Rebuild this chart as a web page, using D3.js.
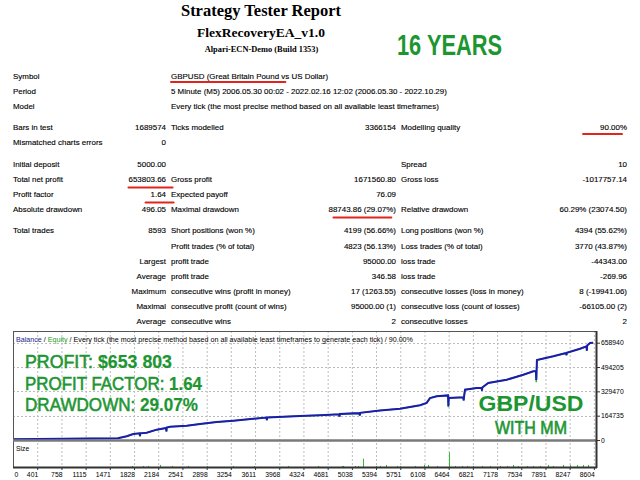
<!DOCTYPE html>
<html>
<head>
<meta charset="utf-8">
<script src="https://cdn.jsdelivr.net/npm/d3@7"></script>
<style>
  body { margin: 0; background: #fff; }
  svg { display: block; }
</style>
</head>
<body>
<div id="root"></div>
<script>
// ---- Report header
const reportTitle = 'Strategy Tester Report';
const expertName = 'FlexRecoveryEA_v1.0';
const serverName = 'Alpari-ECN-Demo (Build 1353)';
const yearsBadge = '16 YEARS';

// ---- Summary table (6 columns: label, value, label, value, label, value)
const infoRows = [
    ['Symbol', '', 'GBPUSD (Great Britain Pound vs US Dollar)', '', '', ''],
    ['Period', '', '5 Minute (M5) 2006.05.30 00:02 - 2022.02.16 12:02 (2006.05.30 - 2022.10.29)', '', '', ''],
    ['Model', '', 'Every tick (the most precise method based on all available least timeframes)', '', '', '']
];
const qualityRows = [
    ['Bars in test', '1689574', 'Ticks modelled', '3366154', 'Modelling quality', '90.00%'],
    ['Mismatched charts errors', '0', '', '', '', '']
];
const resultRows = [
    ['Initial deposit', '5000.00', '', '', 'Spread', '10'],
    ['Total net profit', '653803.66', 'Gross profit', '1671560.80', 'Gross loss', '-1017757.14'],
    ['Profit factor', '1.64', 'Expected payoff', '76.09', '', ''],
    ['Absolute drawdown', '496.05', 'Maximal drawdown', '88743.86 (29.07%)', 'Relative drawdown', '60.29% (23074.50)']
];
const tradeRows = [
    ['Total trades', '8593', 'Short positions (won %)', '4199 (56.66%)', 'Long positions (won %)', '4394 (55.62%)'],
    ['', '', 'Profit trades (% of total)', '4823 (56.13%)', 'Loss trades (% of total)', '3770 (43.87%)'],
    ['', 'Largest', 'profit trade', '95000.00', 'loss trade', '-44343.00'],
    ['', 'Average', 'profit trade', '346.58', 'loss trade', '-269.96'],
    ['', 'Maximum', 'consecutive wins (profit in money)', '17 (1263.55)', 'consecutive losses (loss in money)', '8 (-19941.06)'],
    ['', 'Maximal', 'consecutive profit (count of wins)', '95000.00 (1)', 'consecutive loss (count of losses)', '-66105.00 (2)'],
    ['', 'Average', 'consecutive wins', '2', 'consecutive losses', '2']
];
const markedCells = ['GBPUSD (Great Britain Pound vs US Dollar)', '90.00%', '653803.66', '1.64', '88743.86 (29.07%)'];

// ---- Balance / equity chart
const chartCaption = ['Balance', ' / ', 'Equity', ' / Every tick (the most precise method based on all available least timeframes to generate each tick) / 90.00%'];
const balanceTrades = [0, 400, 800, 1200, 1590, 1720, 1817, 1910, 1915, 1920, 2014, 2162, 2300, 2305, 2310, 2358, 2604, 2800, 3046, 3291,
    3585, 3780, 3785, 3790, 4028, 4273, 4568, 4850, 4855, 4860, 5150, 5155, 5160, 5452, 5747, 6042, 6140, 6189, 6288, 6455,
    6460, 6465, 6680, 6685, 6690, 6705, 6877, 6950, 6955, 6960, 7048, 7319, 7564, 7712, 7750, 7755, 7765, 8006, 8195, 8200,
    8205, 8400, 8495, 8500, 8505, 8547, 8593];
const balanceValues = [5000, 7000, 8000, 10000, 12000, 25000, 40000, 45000, 26000, 45000, 49000, 70000, 81000, 59000, 84000, 90000, 97000, 108000, 122000, 131000,
    144000, 152000, 135000, 153000, 158000, 162000, 167000, 174000, 158000, 176000, 182000, 166000, 184000, 199000, 212000, 235000, 251000, 284000, 296000, 302000,
    228000, 284000, 289000, 268000, 290000, 341000, 352000, 352000, 335000, 356000, 386000, 408000, 442000, 466000, 466000, 406000, 542000, 567000, 589000, 575000,
    590000, 618000, 634000, 605000, 640000, 657000, 658803];
const equityValues = [5000, 7000, 8000, 10000, 12000, 25000, 40000, 45000, 24000, 45000, 49000, 70000, 81000, 57000, 84000, 90000, 97000, 108000, 122000, 131000,
    144000, 152000, 133000, 153000, 158000, 162000, 167000, 174000, 156000, 176000, 182000, 164000, 184000, 199000, 212000, 235000, 251000, 284000, 296000, 302000,
    222000, 284000, 289000, 266000, 290000, 341000, 352000, 352000, 333000, 356000, 386000, 408000, 442000, 466000, 466000, 392000, 542000, 567000, 589000, 573000,
    590000, 618000, 634000, 603000, 640000, 657000, 658803];
const sizeTrades = [1793, 1965, 2040, 2210, 2383, 2628, 2900, 3290, 3600, 4100, 4543, 4888, 4903, 5084, 5133, 5207, 5394, 5452, 5541, 5698,
    5747, 5968, 6101, 6164, 6288, 6469, 6558, 6656, 6730, 6827, 6951, 7073, 7221, 7319, 7417, 7491, 7614, 7712, 7810, 7933,
    8006, 8154, 8252, 8351, 8449, 8522];
const sizeLots = [0.5, 0.5, 0.5, 1, 0.5, 0.5, 0.5, 0.5, 0.5, 0.5, 0.5, 0.5, 0.5, 0.5, 0.5, 4, 0.5, 0.5, 1, 0.5,
    0.5, 0.5, 1, 1, 0.5, 7, 0.5, 0.5, 0.5, 0.5, 0.5, 0.5, 0.5, 0.5, 1, 0.5, 0.5, 0.5, 0.5, 1,
    0.5, 1, 1, 1, 1, 1];
const xTickValues = [0, 401, 758, 1115, 1471, 1828, 2184, 2541, 2898, 3254, 3611, 3968, 4324, 4681, 5038, 5394, 5751, 6108, 6464, 6821, 7178, 7534, 7891, 8247, 8604];
const yTickValues = [0, 164735, 329470, 494205, 658940];

// ---- Promo overlay
const overlayLines = [['PROFIT: ', '$653 803'], ['PROFIT FACTOR: ', '1.64'], ['DRAWDOWN: ', '29.07%']];
const pairLabel = 'GBP/USD';
const mmLabel = 'WITH MM';

const width = 640, height = 480;
const green = '#1d9632';
const sans = '"Liberation Sans", Arial, sans-serif';
const serif = '"Liberation Serif", "Times New Roman", serif';

const svg = d3.select('#root').append('svg').attr('width', width).attr('height', height);
svg.append('rect').attr('width', width).attr('height', height).attr('fill', '#fff');

// Header
const header = svg.append('g').attr('font-family', serif).attr('font-weight', 'bold').attr('text-anchor', 'middle').attr('fill', '#000');
header.append('text').attr('x', 261).attr('y', 16).attr('font-size', 16.5).text(reportTitle);
header.append('text').attr('x', 261).attr('y', 37).attr('font-size', 13.5).text(expertName);
header.append('text').attr('x', 261.5).attr('y', 52).attr('font-size', 8.4).text(serverName);
svg.append('text').attr('x', 449.5).attr('y', 55).attr('text-anchor', 'middle')
    .attr('font-family', sans).attr('font-weight', 'bold').attr('font-size', 30).attr('fill', green)
    .attr('textLength', 105).attr('lengthAdjust', 'spacingAndGlyphs').text(yearsBadge);

// Summary table
const columns = [
    { x: 13, anchor: 'start' }, { x: 166, anchor: 'end' }, { x: 171, anchor: 'start' },
    { x: 396, anchor: 'end' }, { x: 401, anchor: 'start' }, { x: 627, anchor: 'end' }
];
const tableRows = [infoRows, qualityRows, resultRows, tradeRows]
    .flatMap((block, blockIndex) => block.map(row => ({ row, blockIndex })))
    .map((d, index) => ({ ...d, cy: 76 + index * 15.05 + d.blockIndex * 6.4 }));

const table = svg.append('g').attr('font-family', sans).attr('font-size', 7.95).attr('fill', '#000')
    .attr('stroke', '#000').attr('stroke-width', 0.12);
const cells = table.selectAll('g').data(tableRows).join('g')
    .attr('transform', d => `translate(0, ${d.cy + 2.8})`);
cells.selectAll('text').data(d => d.row.map((text, col) => ({ text, col })).filter(c => c.text !== ''))
    .join('text')
    .attr('x', c => columns[c.col].x)
    .attr('text-anchor', c => columns[c.col].anchor)
    .text(c => c.text);

// Red hand-drawn marks under the key figures: [left offset, right offset, below centre]
const markOffsets = {
    'GBPUSD (Great Britain Pound vs US Dollar)': [0, -43, 6],
    '90.00%': [-17, -5, 6.4],
    '653803.66': [0, 6, 8.4],
    '1.64': [-5, 7, 8.4],
    '88743.86 (29.07%)': [5, -5, 8.4]
};
cells.each(function(rowData) {
    d3.select(this).selectAll('text').each(function(c) {
        if (!markedCells.includes(c.text)) return;
        const box = this.getBBox();
        const [l, r, dy] = markOffsets[c.text];
        svg.append('line')
            .attr('x1', box.x + l).attr('x2', box.x + box.width + r)
            .attr('y1', rowData.cy + dy).attr('y2', rowData.cy + dy)
            .attr('stroke', '#e3241c').attr('stroke-width', 2).attr('stroke-linecap', 'round');
    });
});

// Chart frame
const plot = { left: 13, right: 596, top: 331, bottom: 440, sizeTop: 441, sizeBottom: 467 };
const x = d3.scaleLinear([0, 8650], [10, 597]);
const y = d3.scaleLinear([0, 658940], [440, 342.7]);
const ySize = d3.scaleLinear([0, 12], [plot.sizeBottom, plot.sizeTop + 1]);

const chart = svg.append('g').attr('font-family', sans).attr('font-size', 6.8);
svg.append('defs').append('clipPath').attr('id', 'clip-main')
    .append('rect').attr('x', plot.left).attr('y', plot.top).attr('width', plot.right - plot.left).attr('height', plot.bottom - plot.top);

// Grid
const gridX = xTickValues.filter(v => v > 0);
chart.append('g').selectAll('line').data(gridX).join('line')
    .attr('x1', d => x(d) + 0.5).attr('x2', d => x(d) + 0.5)
    .attr('y1', plot.top).attr('y2', plot.sizeBottom)
    .attr('stroke', '#bdbdbd').attr('stroke-dasharray', '2,2');
chart.append('g').selectAll('line').data(yTickValues.filter(v => v > 0)).join('line')
    .attr('x1', plot.left).attr('x2', plot.right)
    .attr('y1', d => Math.round(y(d)) + 0.5).attr('y2', d => Math.round(y(d)) + 0.5)
    .attr('stroke', '#bdbdbd').attr('stroke-dasharray', '2,2');

// Caption
const caption = chart.append('text').attr('x', 16).attr('y', 341.5).attr('font-size', 7.15).attr('fill', '#000');
caption.selectAll('tspan').data(chartCaption).join('tspan')
    .attr('fill', (d, i) => i === 0 ? '#1a1a90' : i === 2 ? '#22a022' : '#000')
    .text(d => d);

// Equity then balance lines
const lineGen = (values) => d3.line().x((d, i) => x(balanceTrades[i])).y(d => y(d))(values);
const lines = chart.append('g').attr('clip-path', 'url(#clip-main)');
lines.append('path').attr('d', lineGen(equityValues)).attr('fill', 'none').attr('stroke', '#2fb82f').attr('stroke-width', 1.5);
lines.append('path').attr('d', lineGen(balanceValues)).attr('fill', 'none').attr('stroke', '#1c1cae').attr('stroke-width', 2);

// Size panel bars
chart.append('g').selectAll('line').data(sizeTrades).join('line')
    .attr('x1', d => Math.round(x(d)) + 0.5).attr('x2', d => Math.round(x(d)) + 0.5)
    .attr('y1', ySize(0)).attr('y2', (d, i) => ySize(sizeLots[i]))
    .attr('stroke', '#33bb33').attr('stroke-width', 1);
chart.append('text').attr('x', 16).attr('y', 450.5).attr('fill', '#000').text('Size');

// Borders
chart.append('rect').attr('x', plot.left + 0.5).attr('y', plot.top + 0.5)
    .attr('width', plot.right - plot.left).attr('height', plot.sizeBottom - plot.top)
    .attr('fill', 'none').attr('stroke', '#555');
chart.append('line').attr('x1', plot.left).attr('x2', plot.right + 1).attr('y1', 440.5).attr('y2', 440.5)
    .attr('stroke', '#7a7a7a').attr('stroke-width', 2.5);
chart.append('line').attr('x1', plot.right + 0.5).attr('x2', plot.right + 0.5).attr('y1', plot.top).attr('y2', plot.sizeBottom + 1)
    .attr('stroke', '#333').attr('stroke-width', 2);
chart.append('line').attr('x1', plot.left).attr('x2', plot.right + 1).attr('y1', plot.sizeBottom + 0.5).attr('y2', plot.sizeBottom + 0.5)
    .attr('stroke', '#333').attr('stroke-width', 2);

// Right value axis
const yAxis = chart.append('g').attr('transform', `translate(${plot.right + 1}, 0)`)
    .call(d3.axisRight(y).tickValues(yTickValues).tickSize(3).tickPadding(1).tickFormat(d3.format('d')));
yAxis.select('.domain').remove();
yAxis.selectAll('text').attr('font-size', 6.8).attr('font-family', sans).attr('fill', '#000');
yAxis.selectAll('line').attr('stroke', '#333');

// Bottom trade-number axis, labels end at their grid line
const xAxis = chart.append('g').attr('transform', `translate(0, ${plot.sizeBottom + 1})`)
    .call(d3.axisBottom(x).tickValues(xTickValues).tickSize(2).tickPadding(2).tickFormat(d3.format('d')));
xAxis.select('.domain').remove();
xAxis.selectAll('.tick').filter(d => d === 0).select('line').remove();
xAxis.selectAll('text')
    .attr('font-size', 6.8).attr('font-family', sans).attr('fill', '#000')
    .attr('text-anchor', d => d === 0 ? 'start' : 'end')
    .attr('dx', d => d === 0 ? plot.left + 1 - x(0) : 0.5);
xAxis.selectAll('line').attr('stroke', '#333');

// Promo overlay
const overlay = svg.append('g').attr('font-family', sans).attr('fill', green).attr('font-size', 17.5);
const overlayWidths = [147, 177, 173];
overlay.selectAll('text').data(overlayLines).join('text')
    .attr('x', 25).attr('y', (d, i) => 368 + i * 21.65)
    .attr('textLength', (d, i) => overlayWidths[i]).attr('lengthAdjust', 'spacingAndGlyphs')
    .selectAll('tspan').data(d => d).join('tspan')
    .attr('font-weight', (d, i) => i === 1 ? 'bold' : 'normal')
    .attr('stroke', green).attr('stroke-width', (d, i) => i === 1 ? 0.2 : 0.55)
    .text(d => d);
overlay.append('text').attr('x', 531).attr('y', 411.3).attr('text-anchor', 'middle')
    .attr('font-weight', 'bold').attr('font-size', 21.5)
    .attr('textLength', 105).attr('lengthAdjust', 'spacingAndGlyphs').text(pairLabel);
overlay.append('text').attr('x', 531).attr('y', 434).attr('text-anchor', 'middle')
    .attr('font-size', 17.5).attr('stroke', green).attr('stroke-width', 0.6)
    .attr('textLength', 72).attr('lengthAdjust', 'spacingAndGlyphs').text(mmLabel);
</script>
</body>
</html>
